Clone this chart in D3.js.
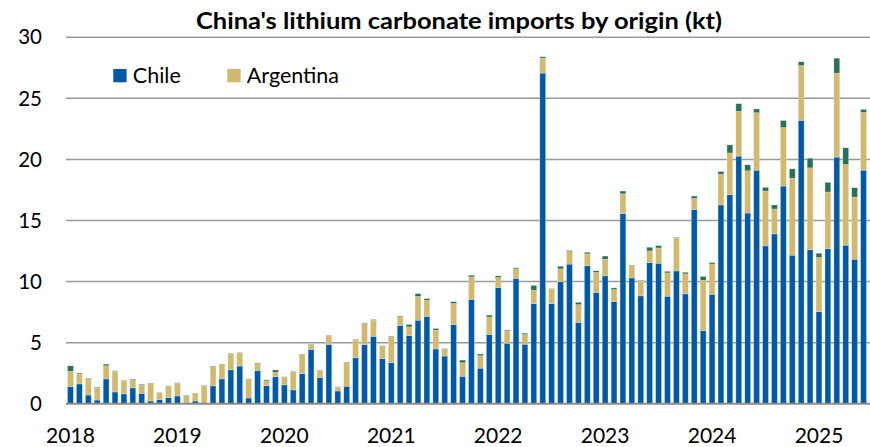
<!DOCTYPE html>
<html><head><meta charset="utf-8">
<script src="https://cdn.jsdelivr.net/npm/d3@7"></script>
<style>
html,body{margin:0;padding:0;background:#fff;}
svg{display:block;font-family:Lato,"Open Sans",sans-serif;}
</style></head>
<body><svg id="chart" width="870" height="447"></svg>
<script>
const title = "China's lithium carbonate imports by origin (kt)";
const years = ["2018","2019","2020","2021","2022","2023","2024","2025"];
const monthsInLastYear = 6;
const yTicks = [0,5,10,15,20,25,30];
const seriesNames = ["Chile","Argentina","Other"];
const legendNames = ["Chile","Argentina"];
const colors = ["#0059a8","#d3b96b","#2a7059"];

const chile = [1.40,1.62,0.71,0.30,2.03,0.96,0.80,1.29,0.85,0.22,0.33,0.49,
 0.63,0.05,0.22,0.03,1.46,2.03,2.77,3.08,0.47,2.72,1.48,2.20,
 1.54,1.13,2.45,4.45,2.14,4.86,1.04,1.43,3.76,4.84,5.52,3.68,
 3.35,6.40,5.58,6.84,7.14,4.48,3.90,6.48,2.25,8.54,2.91,5.66,
 9.51,4.95,10.26,4.87,8.19,27.07,8.19,9.98,11.43,6.66,11.29,9.11,
 10.47,8.35,15.56,10.30,8.83,11.55,11.50,8.80,10.87,8.99,15.89,5.97,
 8.96,16.27,17.11,20.27,15.61,19.12,12.92,13.90,17.82,12.16,23.20,12.60,
 7.54,12.68,20.19,12.98,11.83,19.12];
const argentina = [1.26,0.80,1.32,0.99,1.07,1.70,1.07,0.69,0.69,1.43,0.55,0.94,
 1.05,0.64,0.63,1.45,1.56,1.16,1.30,1.07,1.53,0.58,0.39,0.38,
 0.63,1.48,1.59,0.36,0.58,0.69,0.31,1.95,1.46,1.73,1.32,1.02,
 2.14,0.74,0.71,1.95,1.32,1.54,0.55,1.73,1.10,1.84,1.02,1.44,
 0.82,0.99,0.78,0.79,1.11,1.22,1.19,1.06,1.03,1.45,0.98,1.64,
 1.36,1.00,1.63,0.98,1.22,0.96,1.25,1.91,2.70,1.64,0.92,4.14,
 2.48,2.52,3.42,3.67,3.46,4.71,4.49,2.04,4.79,6.31,4.49,6.71,
 4.43,4.65,6.88,6.61,5.09,4.74];
const other = [0.44,0.08,0.06,0.06,0.14,0.03,0.03,0.04,0.06,0.03,0.03,0.03,
 0.03,0.02,0.02,0.02,0.06,0.04,0.04,0.03,0.03,0.04,0.08,0.18,
 0.03,0.03,0.03,0.05,0.03,0.04,0.03,0.03,0.04,0.04,0.05,0.04,
 0.04,0.05,0.19,0.22,0.14,0.13,0.05,0.14,0.22,0.14,0.14,0.15,
 0.14,0.08,0.08,0.11,0.38,0.11,0.04,0.22,0.08,0.19,0.13,0.13,
 0.26,0.13,0.22,0.05,0.05,0.30,0.19,0.13,0.05,0.13,0.19,0.30,
 0.11,0.22,0.66,0.62,0.49,0.30,0.30,0.33,0.57,0.76,0.30,0.79,
 0.35,0.79,1.22,1.36,0.76,0.24];

// categories: months Jan 2018 .. Jun 2025
const months = [];
years.forEach((y,i)=>{
  const n = i===years.length-1 ? monthsInLastYear : 12;
  for(let m=1;m<=n;m++) months.push(y+"-"+String(m).padStart(2,"0"));
});

const rows = months.map((m,i)=>({month:m, Chile:chile[i], Argentina:argentina[i], Other:other[i]}));
const stack = d3.stack().keys(seriesNames)(rows);

const svg = d3.select("#chart");
const x = d3.scaleBand().domain(months).range([66,868]).paddingInner(0.35).paddingOuter(0.175);
const y = d3.scaleLinear().domain([0,30]).range([403.7,37.3]);

// gridlines
svg.append("g").selectAll("line").data(yTicks.filter(d=>d>0)).join("line")
  .attr("x1",66).attr("x2",870).attr("y1",d=>y(d)).attr("y2",d=>y(d))
  .attr("stroke","#9a9a9a").attr("stroke-width",1.5);

// y labels
svg.append("g").selectAll("text").data(yTicks).join("text")
  .attr("x",42).attr("y",d=>y(d)).attr("dy","0.35em").attr("text-anchor","end")
  .attr("font-size",20.5).attr("fill","#000").text(d=>d);

// bars
const colorOf = d3.scaleOrdinal().domain(seriesNames).range(colors);
svg.append("g").selectAll("g").data(stack).join("g")
  .attr("fill",d=>colorOf(d.key))
  .selectAll("rect").data(d=>d).join("rect")
  .attr("x",d=>x(d.data.month)).attr("width",x.bandwidth())
  .attr("y",d=>y(d[1])).attr("height",d=>Math.max(0,y(d[0])-y(d[1])))
  .attr("stroke","rgba(220,235,230,0.6)").attr("stroke-width",0.5);

// zero axis
svg.append("line").attr("x1",66).attr("x2",870).attr("y1",y(0)).attr("y2",y(0))
  .attr("stroke","#8c8c8c").attr("stroke-width",2);

// x labels
const xAxis = d3.axisBottom(x).tickValues(years.map(yr=>yr+"-01")).tickFormat(d=>d.slice(0,4)).tickSize(0).tickPadding(0);
const gx = svg.append("g").attr("transform","translate(0,"+y(0)+")").call(xAxis);
gx.select(".domain").remove();
gx.selectAll("text").attr("font-size",21).attr("font-family","Lato,'Open Sans',sans-serif")
  .attr("fill","#000").attr("dy",null).attr("y",39.5);

// title
svg.append("text").attr("x",459).attr("y",29).attr("text-anchor","middle")
  .attr("font-size",23.5).attr("font-weight","bold").attr("fill","#000")
  .attr("textLength",526).attr("lengthAdjust","spacingAndGlyphs").text(title);

// legend
const lg = svg.append("g");
const legX = [113.3,227.3];
legendNames.forEach((n,i)=>{
  lg.append("rect").attr("x",legX[i]).attr("y",69).attr("width",13.3).attr("height",13.3).attr("fill",colors[i]);
  lg.append("text").attr("x",legX[i]+19.5).attr("y",75.7).attr("dy","0.35em")
    .attr("font-size",21.5).attr("fill","#000").text(n);
});
</script></body></html>
